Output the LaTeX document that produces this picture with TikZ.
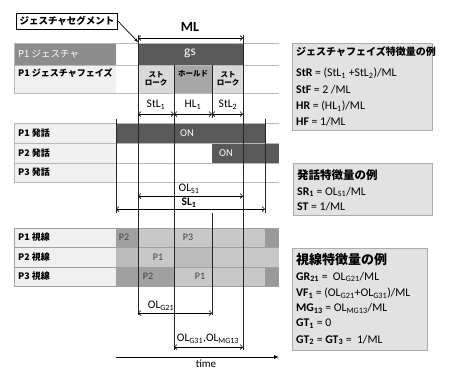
\documentclass[tikz,border=0pt]{standalone}
\usepackage{fontspec}
\setmainfont{Carlito}
\newfontfamily\jp{Noto Sans CJK JP}
\usetikzlibrary{arrows.meta}
\definecolor{dk}{HTML}{595959}
\definecolor{md}{HTML}{8C8C8C}
\definecolor{lbg}{HTML}{F0F0F0}
\definecolor{phl}{HTML}{D9D9D9}
\definecolor{phd}{HTML}{A6A6A6}
\definecolor{ga}{HTML}{C8C8C8}
\definecolor{gb}{HTML}{BBBBBB}
\definecolor{gc}{HTML}{A0A0A0}
\definecolor{gd}{HTML}{999999}
\definecolor{boxbg}{HTML}{E2E2E2}
\newcommand{\fs}[1]{\fontsize{#1}{#1}\selectfont}
\begin{document}
\begin{tikzpicture}[x=1pt,y=-1pt,
  lbl/.style={font=\jp\fs{9}\bfseries, anchor=west, inner sep=0},
  dimarr/.style={{Straight Barb[length=2.5pt,width=5pt]}-{Straight Barb[length=2.5pt,width=5pt]}, line width=0.7pt},
  vline/.style={line width=0.75pt, black!85},
  hline/.style={draw=gray!55, line width=0.6pt},
  gline/.style={draw=gray!75, line width=0.7pt},
  dimtxt/.style={font=\fs{11.5}, inner sep=0},
  wtxt/.style={font=\fs{10.5}, text=white, inner sep=0},
  gtxt/.style={font=\fs{10}, text=black!75, inner sep=0},
  phtxt/.style={font=\jp\fs{7.5}\bfseries, align=center, inner sep=0},
  fbox/.style={fill=boxbg, draw=gray!65, line width=1pt},
  btitle/.style={font=\jp\bfseries, anchor=west, inner sep=0},
  bline/.style={font=\fs{11.75}, anchor=west, inner sep=0}]
\useasboundingbox (0,0) rectangle (458,370);

% ---------- gesture rows ----------
\fill[md] (14,43) rectangle (116,65);
\fill[dk] (138,43) rectangle (243,65);
\fill[lbg] (14,65) rectangle (116,93);
\fill[phl] (138,65) rectangle (174,93);
\fill[phd] (174,65) rectangle (212,93);
\fill[phl] (212,65) rectangle (243,93);
\foreach \y in {43,65,93} \draw[hline] (14,\y) -- (279,\y);
\draw[hline] (14,43) -- (14,93);

% ---------- speech rows ----------
\fill[lbg] (14,123) rectangle (116,182);
\fill[dk] (116,123) rectangle (265,143);
\fill[dk] (212,143) rectangle (279,163);
\foreach \y in {123,143,163,182} \draw[hline] (14,\y) -- (279,\y);
\draw[hline] (14,123) -- (14,182);

% ---------- gaze rows ----------
\fill[lbg] (14,228) rectangle (116,286);
\fill[gc] (116,228) rectangle (138,247);
\fill[ga] (138,228) rectangle (265,247);
\fill[gd] (265,228) rectangle (279,247);
\fill[gb] (116,247) rectangle (138,267);
\fill[ga] (138,247) rectangle (174,267);
\fill[gb] (174,247) rectangle (212,267);
\fill[ga] (212,247) rectangle (279,267);
\fill[gc] (116,267) rectangle (174,286);
\fill[ga] (174,267) rectangle (265,286);
\fill[gd] (265,267) rectangle (279,286);
\foreach \y in {228,247,267,286} \draw[gline] (14,\y) -- (279,\y);
\draw[gline] (14,228) -- (14,286);

% ---------- vertical reference lines ----------
\coordinate (a0) at (138,35);  \coordinate (a1) at (138,315);
\coordinate (b0) at (174,65);  \coordinate (b1) at (174,350);
\coordinate (c0) at (212,65);  \coordinate (c1) at (212,118);
\coordinate (c2) at (212,213); \coordinate (c3) at (212,315);
\coordinate (d0) at (243,35);  \coordinate (d1) at (243,350);
\coordinate (e0) at (116,119); \coordinate (e1) at (116,213);
\coordinate (f0) at (265,119); \coordinate (f1) at (265,213);
\draw[vline] (a0) -- (a1);
\draw[vline] (b0) -- (b1);
\draw[vline] (c0) -- (c1);
\draw[vline] (c2) -- (c3);
\draw[vline] (d0) -- (d1);
\draw[vline] (e0) -- (e1);
\draw[vline] (f0) -- (f1);

% ---------- dimension arrows ----------
\coordinate (mlL) at (138,38); \coordinate (mlR) at (243,38);
\draw[dimarr] (mlL) -- (mlR);
\node[font=\fs{14}\bfseries, inner sep=0] (ML) at (190,27) {ML};

\coordinate (s1L) at (138,114); \coordinate (s1R) at (174,114);
\coordinate (h1R) at (212,114); \coordinate (s2R) at (243,114);
\draw[dimarr] (s1L) -- (s1R);
\draw[dimarr] (s1R) -- (h1R);
\draw[dimarr] (h1R) -- (s2R);
\node[dimtxt] (StL1) at (156,105) {StL\textsubscript{1}};
\node[dimtxt] (HL1) at (193,105) {HL\textsubscript{1}};
\node[dimtxt] (StL2) at (228,105) {StL\textsubscript{2}};

\coordinate (olsL) at (138,196); \coordinate (olsR) at (243,196);
\draw[dimarr] (olsL) -- (olsR);
\node[dimtxt] (OLs) at (189,189) {OL\textsubscript{S1}};
\coordinate (slL) at (116,209); \coordinate (slR) at (265,209);
\draw[dimarr] (slL) -- (slR);
\node[dimtxt, font=\fs{11.5}\bfseries] (SL) at (189,203) {SL\textsubscript{1}};

\coordinate (ogL) at (138,313); \coordinate (ogR) at (212,313);
\draw[dimarr] (ogL) -- (ogR);
\node[dimtxt] (OLG) at (161,306) {OL\textsubscript{G21}};
\coordinate (omL) at (174,347); \coordinate (omR) at (243,347);
\draw[dimarr] (omL) -- (omR);
\node[dimtxt] (OLM) at (208,339) {OL\textsubscript{G31},OL\textsubscript{MG13}};

\coordinate (t0) at (116,357); \coordinate (t1) at (279,357);
\draw[line width=0.8pt, -{Latex[length=5pt,width=4pt]}] (t0) -- (t1);
\node[font=\fs{11}, inner sep=0, anchor=base] (time) at (206,367.5) {time};

% ---------- segment callout ----------
\node[draw=black, line width=0.8pt, fill=white, font=\jp\fs{9.5}\bfseries, inner xsep=3pt, inner ysep=1.5pt, minimum height=16pt] (seg) at (67,21) {ジェスチャセグメント};
\coordinate (segtip) at (138,42);
\draw[line width=0.7pt, -{Stealth[length=4pt,width=3pt]}] (seg.east) -- (segtip);

% ---------- row labels ----------
\node[lbl, text=white, font=\jp\fs{9.5}] (r1) at (18,54) {P1 ジェスチャ};
\node[lbl] (r2) at (18,73) {P1 ジェスチャフェイズ};
\node[lbl] (r3) at (18,133) {P1 発話};
\node[lbl] (r4) at (18,153) {P2 発話};
\node[lbl] (r5) at (18,172.5) {P3 発話};
\node[lbl] (r6) at (18,237.5) {P1 視線};
\node[lbl] (r7) at (18,257) {P2 視線};
\node[lbl] (r8) at (18,276.5) {P3 視線};

% ---------- cell texts ----------
\node[font=\fs{13.5}, text=white, inner sep=0] (gs) at (190,53) {gs};
\node[phtxt] (st1) at (156,79) {スト\\ローク};
\node[phtxt] (hold) at (193,74) {ホールド};
\node[phtxt] (st2) at (228,79) {スト\\ローク};
\node[wtxt] (on1) at (187,133) {ON};
\node[wtxt] (on2) at (226,153) {ON};
\node[gtxt] (g1a) at (124,237.5) {P2};
\node[gtxt] (g1b) at (188,237.5) {P3};
\node[gtxt] (g2a) at (158,257) {P1};
\node[gtxt] (g3a) at (148,276.5) {P2};
\node[gtxt] (g3b) at (200,276.5) {P1};

% ---------- feature boxes ----------
\draw[fbox] (292,43) rectangle (432,130);
\node[btitle, font=\jp\fs{10}\bfseries] (b1t) at (296,52) {ジェスチャフェイズ特徴量の例};
\node[bline] (b1a) at (296,73) {\textbf{StR} = (StL\textsubscript{1} +StL\textsubscript{2})/ML};
\node[bline] (b1b) at (296,89.5) {\textbf{StF} = 2 /ML};
\node[bline] (b1c) at (296,106) {\textbf{HR} = (HL\textsubscript{1})/ML};
\node[bline] (b1d) at (296,122) {\textbf{HF} = 1/ML};

\draw[fbox] (293,163) rectangle (432,215);
\node[btitle, font=\jp\fs{11.5}\bfseries] (b2t) at (297,175) {発話特徴量の例};
\node[bline] (b2a) at (297,192) {\textbf{SR\textsubscript{1}} = OL\textsubscript{S1}/ML};
\node[bline] (b2b) at (297,207) {\textbf{ST} = 1/ML};

\draw[fbox] (292,248) rectangle (427,350);
\node[btitle, font=\jp\fs{13}\bfseries] (b3t) at (296,260) {視線特徴量の例};
\node[bline] (b3a) at (296,277) {\textbf{GR\textsubscript{21}} = \ OL\textsubscript{G21}/ML};
\node[bline] (b3b) at (296,293) {\textbf{VF\textsubscript{1}} = (OL\textsubscript{G21}+OL\textsubscript{G31})/ML};
\node[bline] (b3c) at (296,308.5) {\textbf{MG\textsubscript{13}} = OL\textsubscript{MG13}/ML};
\node[bline] (b3d) at (296,324) {\textbf{GT\textsubscript{1}} = 0};
\node[bline] (b3e) at (296,340) {\textbf{GT\textsubscript{2}} = \textbf{GT\textsubscript{3}} = \ 1/ML};
\end{tikzpicture}
\end{document}
